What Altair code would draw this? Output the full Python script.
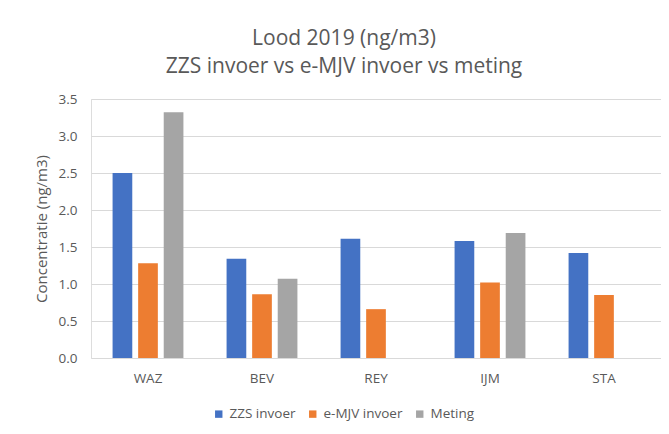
import altair as alt
import pandas as pd

categories = ["WAZ", "BEV", "REY", "IJM", "STA"]
series = ["ZZS invoer", "e-MJV invoer", "Meting"]
zzs_invoer = [2.50, 1.34, 1.61, 1.58, 1.42]
emjv_invoer = [1.28, 0.86, 0.66, 1.02, 0.85]
meting = [3.32, 1.07, None, 1.69, None]
colors = ["#4472C4", "#ED7D31", "#A5A5A5"]
y_ticks = [0.0, 0.5, 1.0, 1.5, 2.0, 2.5, 3.0, 3.5]

rows = []
for s, vals in zip(series, [zzs_invoer, emjv_invoer, meting]):
    for c, v in zip(categories, vals):
        if v is not None:
            rows.append({"Locatie": c, "Reeks": s, "Waarde": v})
df = pd.DataFrame(rows)

FONT = "Open Sans"
TXT = "#595959"

chart = alt.Chart(df).mark_bar().encode(
    x=alt.X("Locatie:N", sort=categories,
            scale=alt.Scale(paddingInner=0.327, paddingOuter=0.1635),
            axis=alt.Axis(title=None, labelAngle=0, domain=False, ticks=False,
                          labelPadding=13, labelFontSize=13.5, labelColor=TXT,
                          labelFont=FONT)),
    xOffset=alt.XOffset("Reeks:N", sort=series,
                        scale=alt.Scale(domain=series, paddingInner=0.23, paddingOuter=0.115)),
    y=alt.Y("Waarde:Q", scale=alt.Scale(domain=[0, 3.5]),
            axis=alt.Axis(values=y_ticks, format=".1f", title="Concentratie (ng/m3)",
                          domain=False, ticks=False, labelPadding=14,
                          labelFontSize=13.5, labelColor=TXT, labelFont=FONT,
                          titleFontSize=15, titleColor=TXT, titleFont=FONT,
                          titleFontWeight="normal", titlePadding=9,
                          gridColor="#D9D9D9", gridWidth=1)),
    color=alt.Color("Reeks:N", sort=series,
                    scale=alt.Scale(domain=series, range=colors),
                    legend=alt.Legend(title=None, orient="none", direction="horizontal",
                                      legendX=121, legendY=308, symbolType="square",
                                      symbolSize=55, symbolStrokeWidth=0,
                                      labelFontSize=13.5, labelColor=TXT, labelFont=FONT,
                                      columnPadding=10, labelOffset=4)),
).properties(
    width=570, height=259,
    title=alt.TitleParams(["Lood 2019 (ng/m3)", "ZZS invoer vs e-MJV invoer vs meting"],
                          anchor="middle", frame="group", dx=-32, offset=15,
                          fontSize=21, font=FONT, fontWeight="normal", color=TXT,
                          lineHeight=28),
    padding={"left": 83, "top": 91, "right": 0, "bottom": 66},
    autosize="none",
).configure_view(stroke=None).configure(background="white")

chart.save("out.html", embed_options={"renderer": "svg", "actions": False})
